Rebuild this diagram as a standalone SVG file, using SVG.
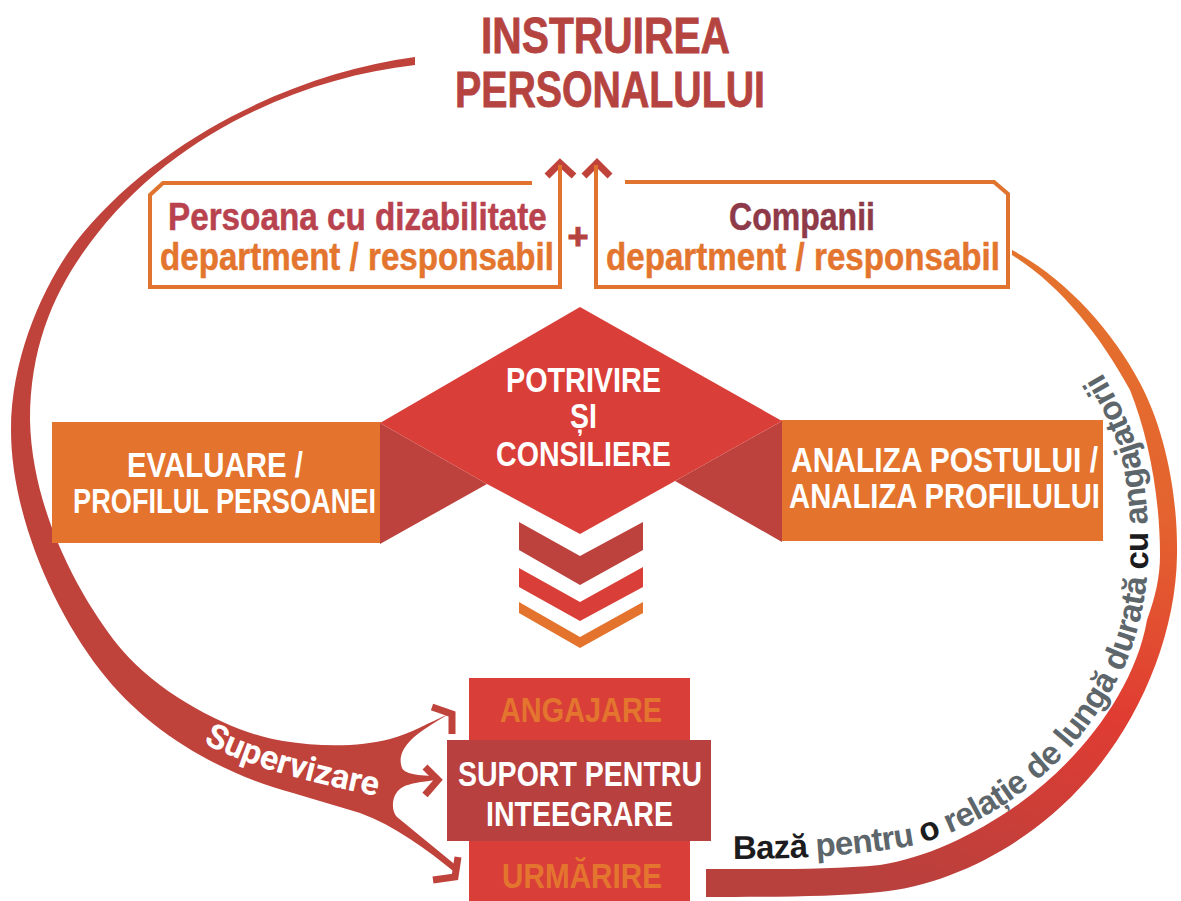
<svg xmlns="http://www.w3.org/2000/svg" width="1181" height="901" viewBox="0 0 1181 901">
<style>
text{font-family:"Liberation Sans",Arial,sans-serif;font-weight:700}
.t{font-size:50px;fill:#b5433f;stroke:#b5433f;stroke-width:.8px}
.b{font-size:39px;stroke-width:.5px}
.l{font-size:36px;fill:#fff}
.o{fill:#e3752f;stroke:#e3752f}
.box{fill:none;stroke:#e0742f;stroke-width:4}
.head{fill:none;stroke:#bf423b;stroke-width:7}
.c{font-size:33px;letter-spacing:-.6px;fill:#5d666b}
.k{fill:#1c1c1e}
</style>
<defs>
<linearGradient id="rg" gradientUnits="userSpaceOnUse" x1="1100" y1="260" x2="900" y2="890">
<stop offset="0" stop-color="#e4742d"/><stop offset=".35" stop-color="#e4622f"/><stop offset=".65" stop-color="#e03c32"/><stop offset="1" stop-color="#b8403d"/>
</linearGradient>
<path id="sup" d="M203 743 C 260 772, 320 784, 385 798"/>
<path id="base" d="M733 859 C 790 859,850 856,905 847 C 950 838,1000 812,1037 780 C 1075 750,1105 705,1125 665 C 1140 630,1148 590,1148 554 C 1149 515,1145 480,1137 447 C 1128 420,1118 398,1085 345"/>
</defs>
<rect width="1181" height="901" fill="#fff"/>
<g id="connectors">
<path id="supervizare-arc" fill="#bf423b" d="M415 57 C 300 72,165 135,83 233 C 50 272,11 350,11 430 C 11 510,50 605,100 670 C 150 735,225 775,293 793 C 315 800,338 806,360 813 C 395 826,425 848,457 874 L 458 867 L 397 817 C 392 812,391 800,397 792 C 402 786,408 783,437 780 L 437 776 C 412 776,404 772,402 768 C 399 760,400 750,413 738 C 422 730,435 722,451 713 C 430 722,410 734,390 739 C 360 747,320 747,283 741 C 240 735,165 700,122 650 C 90 612,32 520,30 420 C 30 345,55 290,90 243 C 170 135,300 78,415 65 Z"/>
<path class="head" d="M432 707 L452 714 L452 734"/>
<path class="head" d="M425 767 L438 780 L425 795"/>
<path class="head" d="M458 857 L455 877 L433 880"/>
<path id="baza-arc" fill="url(#rg)" d="M1012 250 C 1065 278,1112 330,1140 383 C 1165 430,1178 495,1177 555 C 1176 635,1140 720,1087 780 C 1030 845,950 885,880 892 C 830 897,770 897,706 897 L706 869 C 770 869,830 870,880 865 C 925 858,975 835,1020 803 C 1080 760,1135 690,1147 620 C 1155 598,1160 578,1160 555 C 1160 495,1148 435,1130 390 C 1100 335,1060 285,1012 255 Z"/>
<path class="head" d="M547 176 L560 163 L574 176"/>
<path class="head" d="M584 176 L597 163 L610 176"/>
</g>
<g id="title">
<text class="t" transform="translate(481 53) scale(.84 1)" textLength="296.4" lengthAdjust="spacingAndGlyphs">INSTRUIREA</text>
<text class="t" transform="translate(455 107) scale(.84 1)" textLength="369" lengthAdjust="spacingAndGlyphs">PERSONALULUI</text>
</g>
<g id="persoana">
<path class="box" d="M532 183 H163 L150 195 V287 H560 V165"/>
<text class="b" fill="#b8434f" stroke="#b8434f" transform="translate(168 230) scale(.84 1)" textLength="451" lengthAdjust="spacingAndGlyphs">Persoana cu dizabilitate</text>
<text class="b o" transform="translate(160 270) scale(.84 1)" textLength="469" lengthAdjust="spacingAndGlyphs">department / responsabil</text>
</g>
<text id="plus" x="578" y="249" text-anchor="middle" font-size="36" fill="#b5433f" stroke="#b5433f">+</text>
<g id="companii">
<path class="box" d="M625 182 H994 L1008 194 V287 H596 V165"/>
<text class="b" fill="#8e3a48" stroke="#8e3a48" transform="translate(729 230) scale(.84 1)" textLength="173.8" lengthAdjust="spacingAndGlyphs">Companii</text>
<text class="b o" transform="translate(606 270) scale(.84 1)" textLength="469" lengthAdjust="spacingAndGlyphs">department / responsabil</text>
</g>
<g id="evaluare">
<rect x="52" y="422" width="329" height="121" fill="#e3732d"/>
<text class="l" transform="translate(127 477) scale(.84 1)" textLength="209.5" lengthAdjust="spacingAndGlyphs">EVALUARE /</text>
<text class="l" transform="translate(73 513) scale(.84 1)" textLength="360.7" lengthAdjust="spacingAndGlyphs">PROFILUL PERSOANEI</text>
</g>
<g id="analiza">
<rect x="781" y="420" width="322" height="121" fill="#e3732d"/>
<text class="l" transform="translate(791 472) scale(.84 1)" textLength="365.5" lengthAdjust="spacingAndGlyphs">ANALIZA POSTULUI /</text>
<text class="l" transform="translate(789 508) scale(.84 1)" textLength="370.2" lengthAdjust="spacingAndGlyphs">ANALIZA PROFILULUI</text>
</g>
<g id="potrivire">
<polygon fill="#bd423d" points="380,423 487,484 380,544"/>
<polygon fill="#bd423d" points="782,421 675,481 782,542"/>
<polygon fill="#d93f38" points="580,307 782,421 675,481 580,534 487,484 380,423"/>
<text class="l" transform="translate(506 392) scale(.84 1)" textLength="184.5" lengthAdjust="spacingAndGlyphs">POTRIVIRE</text>
<text class="l" transform="translate(570 428) scale(.84 1)" textLength="32" lengthAdjust="spacingAndGlyphs">ȘI</text>
<text class="l" transform="translate(496 466) scale(.84 1)" textLength="208" lengthAdjust="spacingAndGlyphs">CONSILIERE</text>
</g>
<g id="chevrons">
<polygon fill="#bd423d" points="519,522 580,556 643,522 643,550 580,585 519,550"/>
<polygon fill="#d93f38" points="519,568 580,602 643,567 643,587 580,621 519,587"/>
<polygon fill="#e3732d" points="519,602 580,637 643,602 643,613 580,648 519,613"/>
</g>
<g id="angajare">
<rect x="469" y="678" width="221" height="223" fill="#d93f38"/>
<text class="l o" style="stroke:none" transform="translate(500 722) scale(.84 1)" textLength="192.9" lengthAdjust="spacingAndGlyphs">ANGAJARE</text>
<text class="l o" style="stroke:none" transform="translate(502 888) scale(.84 1)" textLength="190.5" lengthAdjust="spacingAndGlyphs">URMĂRIRE</text>
</g>
<g id="suport">
<rect x="447" y="740" width="264" height="101" fill="#b8403f"/>
<text class="l" transform="translate(458 786) scale(.84 1)" textLength="290.5" lengthAdjust="spacingAndGlyphs">SUPORT PENTRU</text>
<text class="l" transform="translate(486 826) scale(.84 1)" textLength="222.6" lengthAdjust="spacingAndGlyphs">INTEEGRARE</text>
</g>
<text id="supervizare" style="font-family:'Roboto','Liberation Sans',sans-serif" font-size="34" fill="#fff"><textPath href="#sup">Supervizare</textPath></text>
<text id="baza" class="c"><textPath href="#base"><tspan class="k">Bază</tspan> pentru <tspan class="k">o</tspan> relație de lungă durată <tspan class="k">cu</tspan> angajatorii</textPath></text>
</svg>
